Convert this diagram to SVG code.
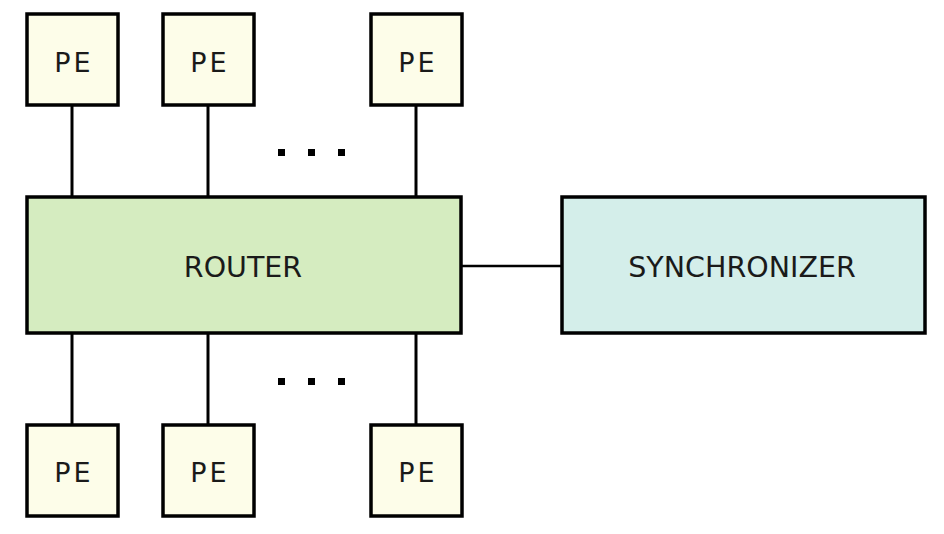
<svg xmlns="http://www.w3.org/2000/svg" width="944" height="534" viewBox="0 0 944 534">
<style>
.pe{fill:#fdfde9;stroke:#000;stroke-width:3.5}
.router{fill:#d5ecc0;stroke:#000;stroke-width:3.5}
.sync{fill:#d4eeea;stroke:#000;stroke-width:3.5}
.lbl{font-family:"DejaVu Sans",Verdana,sans-serif;font-size:28.5px;fill:#1a1a1a;text-anchor:middle}
.pel{font-size:27px;letter-spacing:3px}
.wire{stroke:#000;stroke-width:3;fill:none}
.dot{fill:#000}
</style>
<rect width="944" height="534" fill="#fff"/>
<g id="connectors">
<line class="wire" x1="72" y1="105" x2="72" y2="198"/>
<line class="wire" x1="208" y1="105" x2="208" y2="198"/>
<line class="wire" x1="416" y1="105" x2="416" y2="198"/>
<line class="wire" x1="72" y1="333" x2="72" y2="426"/>
<line class="wire" x1="208" y1="333" x2="208" y2="426"/>
<line class="wire" x1="416" y1="333" x2="416" y2="426"/>
<line class="wire" x1="461" y1="266" x2="562" y2="266" style="stroke-width:2.5"/>
</g>
<g id="dots-top">
<rect class="dot" x="278" y="149" width="7" height="7"/>
<rect class="dot" x="308" y="149" width="7" height="7"/>
<rect class="dot" x="338" y="149" width="7" height="7"/>
</g>
<g id="dots-bottom">
<rect class="dot" x="278" y="378" width="7" height="7"/>
<rect class="dot" x="308" y="378" width="7" height="7"/>
<rect class="dot" x="338" y="378" width="7" height="7"/>
</g>
<g id="router">
<rect class="router" x="27" y="197" width="434" height="136"/>
<text class="lbl" x="243" y="277">ROUTER</text>
</g>
<g id="synchronizer">
<rect class="sync" x="562" y="197" width="363" height="136"/>
<text class="lbl" x="742" y="277">SYNCHRONIZER</text>
</g>
<g id="pe-top-1"><rect class="pe" x="27" y="14" width="91" height="91"/><text class="lbl pel" x="74" y="72">PE</text></g>
<g id="pe-top-2"><rect class="pe" x="163" y="14" width="91" height="91"/><text class="lbl pel" x="210" y="72">PE</text></g>
<g id="pe-top-3"><rect class="pe" x="371" y="14" width="91" height="91"/><text class="lbl pel" x="418" y="72">PE</text></g>
<g id="pe-bottom-1"><rect class="pe" x="27" y="425" width="91" height="91"/><text class="lbl pel" x="74" y="482">PE</text></g>
<g id="pe-bottom-2"><rect class="pe" x="163" y="425" width="91" height="91"/><text class="lbl pel" x="210" y="482">PE</text></g>
<g id="pe-bottom-3"><rect class="pe" x="371" y="425" width="91" height="91"/><text class="lbl pel" x="418" y="482">PE</text></g>
</svg>
